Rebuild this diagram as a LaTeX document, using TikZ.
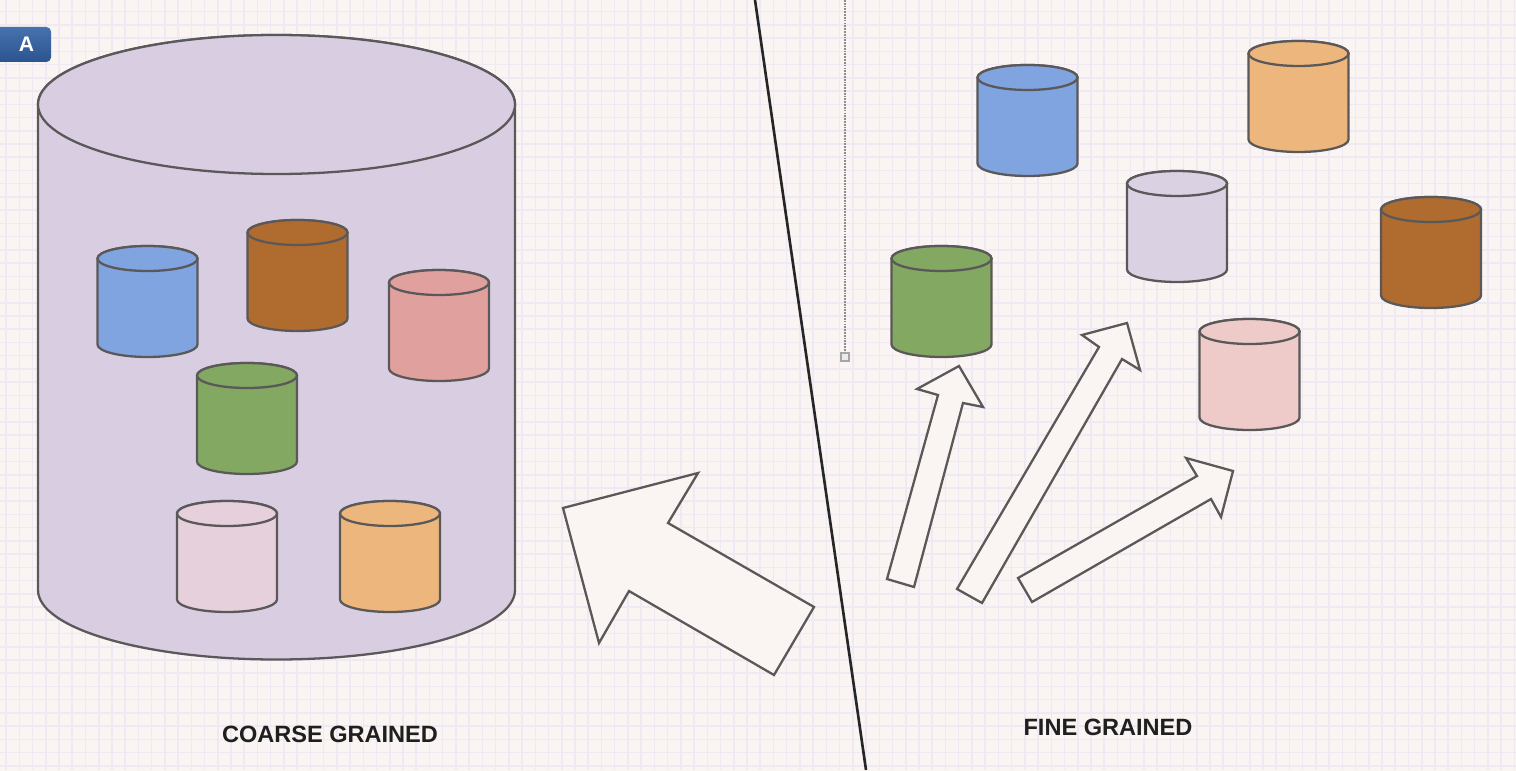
\documentclass[tikz,border=0pt]{standalone}
\usepackage{fontspec}
\setmainfont{Liberation Sans}
\usetikzlibrary{calc}
\definecolor{paper}{HTML}{FAF5F3}
\definecolor{gridcol}{HTML}{EFE9F3}
\definecolor{edge}{HTML}{5A5858}
\definecolor{cbig}{HTML}{D9CEE1}
\definecolor{cblue}{HTML}{7FA4DF}
\definecolor{cbrown}{HTML}{AF6C2E}
\definecolor{csalmon}{HTML}{E0A19E}
\definecolor{cgreen}{HTML}{82A862}
\definecolor{cpinkA}{HTML}{E6D0DB}
\definecolor{corange}{HTML}{EDB67C}
\definecolor{clav}{HTML}{DAD1E3}
\definecolor{cpinkB}{HTML}{EECBC8}
\definecolor{badgetop}{HTML}{4772AE}
\definecolor{badgebot}{HTML}{2B5390}
\def\cylinder[#1](#2,#3)(#4:#5:#6)% Syntax: [draw options] (center x,top y) (x radius:height:y radius)
    { \filldraw[#1] (#2-#4,#3) -- (#2-#4,#3+#5) arc (180:0:#4 and #6) -- (#2+#4,#3) arc (0:-180:#4 and #6) -- cycle;
      \draw[#1] (#2,#3) ellipse (#4 and #6); }

\begin{document}
\begin{tikzpicture}
    [x=0.01cm, y=-0.01cm,
    gridline/.style={gridcol, line width=0.45pt},
    cyl/.style={draw=edge, line width=0.65pt},
    blockarrow/.style={draw=edge, fill=paper, line width=0.65pt, line join=miter},
    caption/.style={font=\fontsize{6.7}{8}\selectfont\bfseries, text=black!88, inner sep=0pt}]
    \fill[paper] (-20,-20) rectangle (1536,790);
    \foreach \i in {0,...,114}
    {
        \draw[gridline] (6.1 + \i*13.23, 0) -- (6.1 + \i*13.23, 770);
    }
    \foreach \i in {0,...,57}
    {
        \draw[gridline] (0, 11.7 + \i*13.23) -- (1516, 11.7 + \i*13.23);
    }

    \coordinate[] (s1) at (755, 0);
    \coordinate[] (s2) at (866, 770);
    \coordinate[] (g1) at (845, 0);
    \coordinate[] (g2) at (845, 352);
    \coordinate[] (g3) at (845, 357);

    % coarse grained
    \cylinder[cyl, fill=cbig](276.5,104.5)(238.5:485.5:69.5)
    \foreach \cx/\ty/\col in {147.5/258.5/cblue, 297.5/232.5/cbrown, 439/282.5/csalmon,
        247/375.5/cgreen, 227/513.5/cpinkA, 390/513.5/corange}
    {
        \cylinder[cyl, fill=\col](\cx,\ty)(50:86:12.5)
    }

    % fine grained
    \foreach \cx/\ty/\col in {1027.5/77.5/cblue, 1298.5/53.5/corange, 1177/183.5/clav,
        1431/209.5/cbrown, 941.5/258.5/cgreen, 1249.5/331.5/cpinkB}
    {
        \cylinder[cyl, fill=\col](\cx,\ty)(50:86:12.5)
    }

    \draw[blockarrow] (563,508) -- (698,473) -- (668,523) -- (814,607) -- (774,675) -- (629,591) -- (599,643) -- cycle;
    \draw[blockarrow] (887,579) -- (938,395) -- (917,389) -- (959,366) -- (983,407) -- (963,403) -- (914,587) -- cycle;
    \draw[blockarrow] (957,589) -- (1099,347) -- (1082,335) -- (1127,323) -- (1140,370) -- (1122,359) -- (982,603) -- cycle;
    \draw[blockarrow] (1018,578) -- (1197,476) -- (1186,458) -- (1233,471) -- (1221,517) -- (1211,499) -- (1032,602) -- cycle;

    \draw[black!85, line width=0.75pt] (s1) -- (s2);
    \draw[black!45, line width=0.6pt, dash pattern=on 0.5pt off 0.3pt] (g1) -- (g2);
    \draw[black!35, fill=black!8, line width=0.35pt] ($(g3)+(-4,-4)$) rectangle ($(g3)+(4,4)$);

    \shade[top color=badgetop, bottom color=badgebot, rounded corners=1.3pt] (-10,27) rectangle (51,62);
    \node[font=\fontsize{6}{7}\selectfont\bfseries, text=white, inner sep=0pt] (tag) at (26.5,44.5) {A};

    \node[caption] (coarse) at (330,734) {COARSE GRAINED};
    \node[caption] (fine) at (1108,727) {FINE GRAINED};

    \pgfresetboundingbox
    \useasboundingbox (0,0) rectangle (1516,770);
\end{tikzpicture}
\end{document}
